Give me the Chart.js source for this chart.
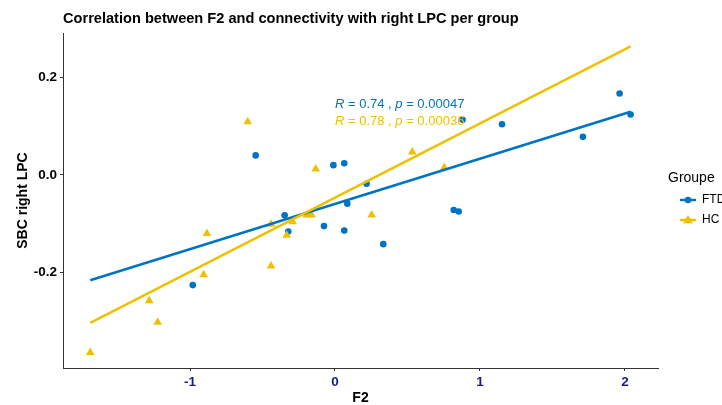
<!DOCTYPE html>
<html>
<head>
<meta charset="utf-8">
<title>F2 vs SBC right LPC</title>
<script src="https://cdn.jsdelivr.net/npm/chart.js@4.4.1/dist/chart.umd.min.js"></script>
<style>
  html, body { margin: 0; padding: 0; background: #fff; }
  #wrap { width: 722px; height: 405px; position: relative; }
</style>
</head>
<body>
<div id="wrap"><canvas id="corrChart" width="722" height="405"></canvas></div>
<script>
// --- datos por grupo (F2, SBC right LPC) ---
const ftdF2  = [-0.547, -0.011, 0.064, 0.085, -0.347, -0.322, -0.076, 0.064, -0.981,
                1.963, 2.039, 1.152, 1.710, 0.880, 0.218, 0.819, 0.853, 0.333];
const ftdSBC = [0.040, 0.020, 0.024, -0.059, -0.083, -0.116, -0.105, -0.114, -0.226,
                0.167, 0.124, 0.104, 0.078, 0.113, -0.018, -0.072, -0.075, -0.142];
const hcF2   = [-0.602, -0.133, -0.195, -0.161, -0.292, -0.441, -0.333, -0.883, -0.441,
                -0.906, -1.281, -1.223, -1.688, 0.533, 0.754, 0.253];
const hcSBC  = [0.109, 0.012, -0.082, -0.082, -0.096, -0.101, -0.124, -0.120, -0.187,
                -0.205, -0.258, -0.302, -0.364, 0.047, 0.015, -0.082];

const groups = ['FTD', 'HC'];
const corrLabels = [
  { r: '0.74', p: '0.00047' },
  { r: '0.78', p: '0.00036' }
];
const xTicks = [-1, 0, 1, 2];
const yTicks = [-0.2, 0, 0.2];

const BLUE = '#0073C2';
const YELLOW = '#EFC000';
const FONT = "'Liberation Sans', Arial, sans-serif";

function toPoints(xs, ys) {
  return xs.map((x, i) => ({ x: x, y: ys[i] }));
}

// recta de mínimos cuadrados, extendida al rango completo de F2
const allF2 = ftdF2.concat(hcF2);
const xMinFit = Math.min(...allF2);
const xMaxFit = Math.max(...allF2);

function lmLine(xs, ys) {
  const n = xs.length;
  const mx = xs.reduce((a, b) => a + b, 0) / n;
  const my = ys.reduce((a, b) => a + b, 0) / n;
  let sxy = 0, sxx = 0;
  for (let i = 0; i < n; i++) {
    sxy += (xs[i] - mx) * (ys[i] - my);
    sxx += (xs[i] - mx) * (xs[i] - mx);
  }
  const b = sxy / sxx;
  const a = my - b * mx;
  return [{ x: xMinFit, y: a + b * xMinFit }, { x: xMaxFit, y: a + b * xMaxFit }];
}

// título, títulos de ejes, etiqueta de correlación y leyenda
const decorPlugin = {
  id: 'decor',
  afterDraw(chart) {
    const ctx = chart.ctx;
    const area = chart.chartArea;
    const xs = chart.scales.x, ys = chart.scales.y;
    ctx.save();

    ctx.fillStyle = '#000';
    ctx.font = 'bold 14.6px ' + FONT;
    ctx.textAlign = 'left';
    ctx.textBaseline = 'alphabetic';
    ctx.fillText('Correlation between F2 and connectivity with right LPC per group', area.left, 23);

    ctx.font = 'bold 14px ' + FONT;
    ctx.textAlign = 'center';
    ctx.fillText('F2', (area.left + area.right) / 2, 402);

    ctx.save();
    ctx.translate(27, (area.top + area.bottom) / 2);
    ctx.rotate(-Math.PI / 2);
    ctx.fillText('SBC right LPC', 0, 0);
    ctx.restore();

    // R y p por grupo
    const colors = [BLUE, YELLOW];
    const labelY = [0.145, 0.110];
    corrLabels.forEach((c, i) => {
      let px = xs.getPixelForValue(0);
      const py = ys.getPixelForValue(labelY[i]);
      ctx.fillStyle = colors[i];
      ctx.textAlign = 'left';
      ctx.textBaseline = 'middle';
      const parts = [
        ['italic', 'R'], ['normal', ' = ' + c.r + ' , '],
        ['italic', 'p'], ['normal', ' = ' + c.p]
      ];
      parts.forEach(([style, txt]) => {
        ctx.font = (style === 'italic' ? 'italic ' : '') + '13px ' + FONT;
        ctx.fillText(txt, px, py);
        px += ctx.measureText(txt).width;
      });
    });

    // leyenda
    ctx.fillStyle = '#000';
    ctx.font = '14px ' + FONT;
    ctx.textAlign = 'left';
    ctx.textBaseline = 'middle';
    ctx.fillText('Groupe', 668, 178);
    groups.forEach((g, i) => {
      const y = 200 + i * 20;
      ctx.strokeStyle = colors[i];
      ctx.fillStyle = colors[i];
      ctx.lineWidth = 2.5;
      ctx.beginPath();
      ctx.moveTo(680, y);
      ctx.lineTo(696, y);
      ctx.stroke();
      ctx.beginPath();
      if (i === 0) {
        ctx.arc(688, y, 3.2, 0, Math.PI * 2);
      } else {
        ctx.moveTo(688, y - 5);
        ctx.lineTo(693, y + 3.2);
        ctx.lineTo(683, y + 3.2);
        ctx.closePath();
      }
      ctx.fill();
      ctx.fillStyle = '#000';
      ctx.font = '12px ' + FONT;
      ctx.fillText(g, 702, y);
    });

    ctx.restore();
  }
};

const ctx = document.getElementById('corrChart').getContext('2d');
new Chart(ctx, {
  type: 'scatter',
  data: {
    datasets: [
      {
        label: 'FTD',
        data: toPoints(ftdF2, ftdSBC),
        pointStyle: 'circle',
        pointRadius: 3.3,
        backgroundColor: BLUE,
        borderColor: BLUE,
        borderWidth: 0,
        order: 3
      },
      {
        label: 'HC',
        data: toPoints(hcF2, hcSBC),
        pointStyle: 'triangle',
        pointRadius: 5,
        backgroundColor: YELLOW,
        borderColor: YELLOW,
        borderWidth: 0,
        order: 2
      },
      {
        label: 'FTD fit',
        type: 'line',
        data: lmLine(ftdF2, ftdSBC),
        borderColor: BLUE,
        borderWidth: 2.5,
        pointRadius: 0,
        fill: false,
        order: 1
      },
      {
        label: 'HC fit',
        type: 'line',
        data: lmLine(hcF2, hcSBC),
        borderColor: YELLOW,
        borderWidth: 2.5,
        pointRadius: 0,
        fill: false,
        order: 0
      }
    ]
  },
  options: {
    responsive: false,
    animation: false,
    layout: { padding: { left: 0, right: 64, top: 33, bottom: 0 } },
    plugins: {
      legend: { display: false },
      tooltip: { enabled: false }
    },
    scales: {
      x: {
        type: 'linear',
        min: -1.876,
        max: 2.228,
        afterBuildTicks: s => { s.ticks = xTicks.map(v => ({ value: v })); },
        afterFit: s => { s.height = 37; },
        ticks: {
          color: '#1a1a8c',
          font: { family: FONT, size: 13.5, weight: 'bold' },
          padding: 3,
          callback: v => String(v)
        },
        grid: { drawOnChartArea: false, drawTicks: true, tickLength: 3, color: '#333' },
        border: { display: true, color: '#333', width: 1 }
      },
      y: {
        type: 'linear',
        min: -0.396,
        max: 0.291,
        afterBuildTicks: s => { s.ticks = yTicks.map(v => ({ value: v })); },
        afterFit: s => { s.width = 63; },
        ticks: {
          color: '#000',
          font: { family: FONT, size: 13.5, weight: 'bold' },
          padding: 3,
          callback: v => Number(v).toFixed(1)
        },
        grid: { drawOnChartArea: false, drawTicks: true, tickLength: 3, color: '#333' },
        border: { display: true, color: '#333', width: 1 }
      }
    }
  },
  plugins: [decorPlugin]
});
</script>
</body>
</html>
